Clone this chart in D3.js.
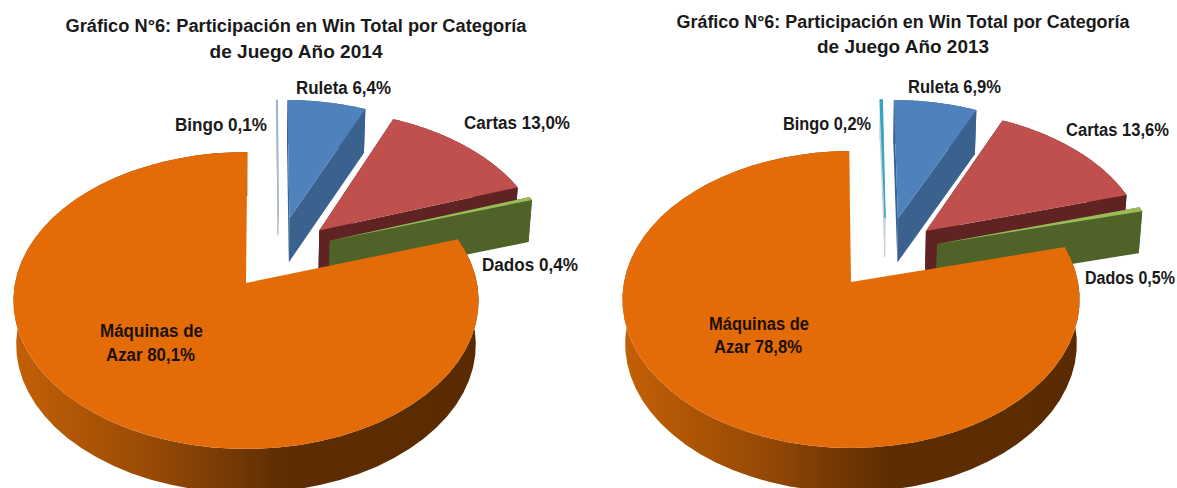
<!DOCTYPE html>
<html>
<head>
<meta charset="utf-8">
<script src="https://cdn.jsdelivr.net/npm/d3@7"></script>
<style>
  body { margin: 0; background: #fff; }
  svg { display: block; }
  text { font-family: "Liberation Sans", Arial, sans-serif; font-weight: bold; fill: #1a1a1a; }
</style>
</head>
<body>
<div id="chart"></div>
<script>
// data
const categories = ["Máquinas de Azar", "Bingo", "Ruleta", "Cartas", "Dados"];
const values2014 = [80.1, 0.1, 6.4, 13.0, 0.4];
const values2013 = [78.8, 0.2, 6.9, 13.6, 0.5];
const titleLines2014 = ["Gráfico N°6: Participación en Win Total por Categoría", "de Juego Año 2014"];
const titleLines2013 = ["Gráfico N°6: Participación en Win Total por Categoría", "de Juego Año 2013"];

const topColors = ["#e36c09", "#a9b7c6", "#4f81bd", "#c0504d", "#9bbb59"];
const wallColors = ["url(#orangeWall)", "#a9b7c6", "#3b618f", "#5e2322", "#4f6228"];

const svg = d3.select("#chart").append("svg")
    .attr("width", 1177)
    .attr("height", 488);

const grad = svg.append("defs").append("linearGradient").attr("id", "orangeWall");
grad.append("stop").attr("offset", "0%").attr("stop-color", "#c46005");
grad.append("stop").attr("offset", "30%").attr("stop-color", "#974a05");
grad.append("stop").attr("offset", "58%").attr("stop-color", "#5e2d02");
grad.append("stop").attr("offset", "100%").attr("stop-color", "#5a2b02");

const fmt = v => d3.format(".1f")(v).replace(".", ",") + "%";
const rad = d3.scaleLinear().domain([0, 360]).range([0, 2 * Math.PI]);

function drawPie(cfg) {
    const tilt = 0.118; // perspective, back of the pie is smaller than the front
    const project = (u, v) => {
        const s = 1 / (1 - tilt * v);
        return [cfg.cx + cfg.rx * u * s, cfg.cy + cfg.ry * v * s];
    };
    const line = d3.line();

    const slices = d3.pie().sort(null)
        .startAngle(rad(cfg.start))
        .endAngle(rad(cfg.start + 360))(cfg.values);

    slices.forEach((d, i) => {
        const dir = rad(cfg.shiftDir[i]);
        d.du = cfg.shift[i] * Math.sin(dir);
        d.dv = -cfg.shift[i] * Math.cos(dir);
        d.rim = d3.range(0, 61).map(k => {
            const a = d.startAngle + (d.endAngle - d.startAngle) * k / 60;
            return project(d.du + Math.sin(a), d.dv - Math.cos(a));
        });
        d.apex = project(d.du, d.dv);
    });

    const down = (p, depth) => [cfg.cx + (p[0] - cfg.cx) * 0.988, p[1] + depth];

    // back to front, the big slice goes last
    [1, 2, 3, 4, 0].forEach(i => {
        const d = slices[i];
        const depth = cfg.depth[i];
        const g = svg.append("g");
        const first = d.rim[0];
        const last = d.rim[d.rim.length - 1];

        g.append("path")
            .attr("d", line(d.rim.concat(d.rim.map(p => down(p, depth)).reverse())) + "Z")
            .attr("fill", wallColors[i]);
        if (i > 0) {
            g.append("path")
                .attr("d", line([d.apex, first, down(first, depth), down(d.apex, depth)]) + "Z")
                .attr("fill", i === 1 ? cfg.bingoWall : wallColors[i]);
            g.append("path")
                .attr("d", line([d.apex, last, down(last, depth), down(d.apex, depth)]) + "Z")
                .attr("fill", i === 1 ? cfg.bingoWall : wallColors[i])
                .attr("stroke", i === 1 ? cfg.bingoWall : "none")
                .attr("stroke-width", i === 1 ? 1 : 0);
        }
        const fill = i === 1 ? cfg.bingoTop : topColors[i];
        g.append("path")
            .attr("d", line([d.apex].concat(d.rim)) + "Z")
            .attr("fill", fill)
            .attr("stroke", i === 1 ? fill : "none")
            .attr("stroke-width", i === 1 ? 1 : 0);
    });

    cfg.title.forEach((t, i) => {
        svg.append("text")
            .attr("x", cfg.titleX)
            .attr("y", cfg.titleY[i])
            .attr("text-anchor", "middle")
            .attr("font-size", 17.5)
            .attr("textLength", cfg.titleW[i])
            .attr("lengthAdjust", "spacingAndGlyphs")
            .text(t);
    });

    const labels = [
        ["Máquinas de", "Azar " + fmt(cfg.values[0])],
        [categories[1] + " " + fmt(cfg.values[1])],
        [categories[2] + " " + fmt(cfg.values[2])],
        [categories[3] + " " + fmt(cfg.values[3])],
        [categories[4] + " " + fmt(cfg.values[4])]
    ];
    labels.forEach((rows, i) => {
        rows.forEach((t, k) => {
            const pos = cfg.labelPos[i][k];
            svg.append("text")
                .attr("x", pos[0])
                .attr("y", pos[1])
                .attr("font-size", 18)
                .attr("textLength", pos[2])
                .attr("lengthAdjust", "spacingAndGlyphs")
                .style("fill", i === 0 ? "#1f1006" : "#1a1a1a")
                .text(t);
        });
    });
}

drawPie({
    values: values2014, title: titleLines2014,
    cx: 246, cy: 283, rx: 231, ry: 146.4, start: 72,
    shift: [0, 0.49, 0.507, 0.5, 0.48],
    shiftDir: [0, 17.5, 23, 41.5, 51.5],
    depth: [44, 17, 44, 44, 42],
    bingoTop: "#a9b7c6", bingoWall: "#b9c5d0",
    titleX: 296, titleY: [32, 58], titleW: [461, 173],
    labelPos: [
        [[100, 337, 103], [106, 361, 89]],
        [[175, 131, 92]],
        [[296, 94, 95]],
        [[464, 129, 106]],
        [[482, 271, 96]]
    ]
});
drawPie({
    values: values2013, title: titleLines2013,
    cx: 851, cy: 282, rx: 227, ry: 146.4, start: 75.8,
    shift: [0, 0.487, 0.506, 0.5, 0.474],
    shiftDir: [0, 19, 25.5, 43.5, 55.6],
    depth: [44, 39, 44, 43, 42],
    bingoTop: "#31a5c4", bingoWall: "#c3d3d9",
    titleX: 903, titleY: [28, 53], titleW: [453, 172],
    labelPos: [
        [[709, 330, 100], [714, 353, 88]],
        [[783, 130, 88]],
        [[908, 93, 93]],
        [[1066, 136, 103]],
        [[1085, 284, 90]]
    ]
});
</script>
</body>
</html>
